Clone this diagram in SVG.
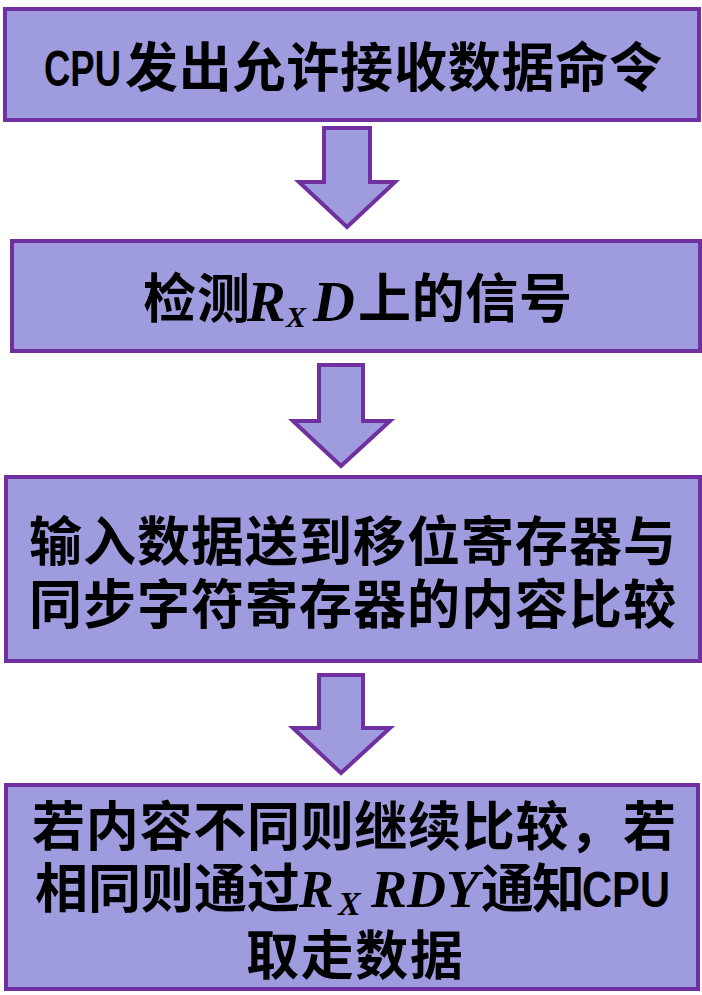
<svg xmlns="http://www.w3.org/2000/svg" width="702" height="995" viewBox="0 0 702 995">
<style>
.box{fill:#9E9BDE;stroke:#7030A0;stroke-width:4}
.arr{fill:#9E9BDE;stroke:#7030A0;stroke-width:4;stroke-linejoin:miter}
.cjk{font-family:"Noto Sans CJK SC","Noto Sans",sans-serif;font-weight:bold;font-size:53px;fill:#000}
.lat{font-family:"Liberation Sans","Noto Sans CJK SC",sans-serif;font-weight:bold;font-size:50px;fill:#000}
.math{font-family:"Liberation Serif","DejaVu Serif",serif;font-style:italic;font-weight:bold;fill:#000}
</style>
<rect width="702" height="995" fill="#fff"/>
<g id="connectors">
<path class="arr" d="M324,128 H370 V182 H395 L347,227 L299,182 H324 Z"/>
<path class="arr" d="M319,365 H363 V421 H390 L341,466 L293,421 H319 Z"/>
<path class="arr" d="M319,675 H363 V728 H390 L341,773 L293,728 H319 Z"/>
</g>
<g id="node1">
<rect class="box" x="5" y="9" width="694" height="111"/>
<text class="lat" x="44" y="86" textLength="77" lengthAdjust="spacingAndGlyphs">CPU</text>
<text class="cjk" x="125" y="87" textLength="537">发出允许接收数据命令</text>
</g>
<g id="node2">
<rect class="box" x="12" y="241" width="688" height="110"/>
<text class="cjk" x="143" y="318" textLength="107">检测</text>
<text class="math" x="247" y="321" font-size="58">R</text>
<text class="math" x="286" y="327" font-size="30">X</text>
<text class="math" x="313" y="321" font-size="58">D</text>
<text class="cjk" x="358" y="318" textLength="214">上的信号</text>
</g>
<g id="node3">
<rect class="box" x="6" y="477" width="694" height="184"/>
<text class="cjk" x="29" y="561" textLength="647">输入数据送到移位寄存器与</text>
<text class="cjk" x="29" y="624" textLength="647">同步字符寄存器的内容比较</text>
</g>
<g id="node4">
<rect class="box" x="6" y="785" width="692" height="204"/>
<text class="cjk" x="32" y="846" textLength="644">若内容不同则继续比较，若</text>
<text class="cjk" x="35" y="908" textLength="265">相同则通过</text>
<text class="math" x="299" y="907" font-size="52">R</text>
<text class="math" x="338" y="915" font-size="34">X</text>
<text class="math" x="371" y="907" font-size="52" textLength="108" lengthAdjust="spacingAndGlyphs">RDY</text>
<text class="cjk" x="481" y="908" textLength="104">通知</text>
<text class="lat" x="582" y="907" textLength="88" lengthAdjust="spacingAndGlyphs">CPU</text>
<text class="cjk" x="246" y="975" textLength="217">取走数据</text>
</g>
</svg>
